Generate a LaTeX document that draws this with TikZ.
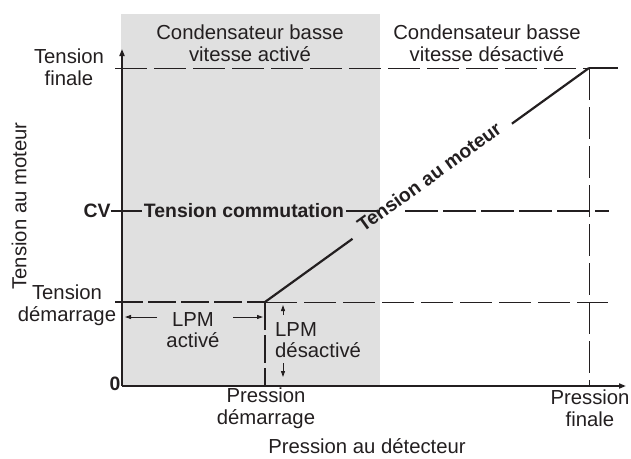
\documentclass[tikz,border=0pt]{standalone}
\usepackage{fontspec}
\setmainfont{Liberation Sans}
\usetikzlibrary{arrows.meta,calc}
\definecolor{greyfill}{RGB}{224,224,224}
\definecolor{ink}{RGB}{35,31,32}
\tikzset{
 lbl/.style={font=\fontsize{20.3}{21.5}\selectfont, text=ink, inner sep=0pt, align=center},
 blbl/.style={lbl, font=\fontsize{19.4}{21.5}\selectfont\bfseries},
 axisline/.style={draw=ink, line width=2pt, -{Triangle[length=7pt,width=5pt]}},
 thindash/.style={draw=ink, line width=1pt, dash pattern=on 32pt off 7pt},
 thickdash/.style={draw=ink, line width=2.2pt, dash pattern=on 33pt off 5pt},
 curveline/.style={draw=ink, line width=2.2pt},
 smallarrow/.style={draw=ink, line width=1pt, -{Triangle[length=6pt,width=4pt]}},
}
\begin{document}
\begin{tikzpicture}[x=1pt,y=-1pt]
\useasboundingbox (0,0) rectangle (631,458);
\fill[greyfill] (121,14) rectangle (380,386);

% key points
\coordinate (O) at (122,386);
\coordinate (Ytop) at (122,49);
\coordinate (Xend) at (626,386);
\coordinate (TFl) at (115,68);
\coordinate (TFr) at (589,68);
\coordinate (TFe) at (618,68);
\coordinate (PF) at (589,386);
\coordinate (TDl) at (115,302);
\coordinate (TD) at (265,302);
\coordinate (TDr) at (608,302);
\coordinate (PD) at (265,386);
\coordinate (CVr) at (380,211);
\coordinate (CVd) at (405,211);
\coordinate (CVe) at (609,211);

% labels
\node[lbl] (cba) at (250,43) {Condensateur basse\\vitesse activé};
\node[lbl] (cbd) at (487,43) {Condensateur basse\\vitesse désactivé};
\node[lbl] (tf) at (69,67) {Tension\\finale};
\node[blbl] (cv) at (97,211) {CV};
\node[blbl, inner xsep=2pt] (tc) at (244,211) {Tension commutation};
\node[lbl] (td) at (67,305) {Tension\\démarrage};
\node[blbl] (zero) at (115,384) {0};
\node[lbl] (pd) at (266,408) {Pression\\démarrage};
\node[lbl] (pf) at (590,408) {Pression\\finale};
\node[lbl] (px) at (367,446) {Pression au détecteur};
\node[lbl, rotate=90] (ty) at (19,206) {Tension au moteur};
\node[lbl] (lpma) at (193,330) {LPM\\activé};
\node[lbl, align=left, anchor=west] (lpmd) at (275,340) {LPM\\désactivé};
\node[blbl, rotate=35.8] (tm) at (429,177) {Tension au moteur};

% dashed guide lines
\draw[thindash] (TFl) -- (TFr);
\draw[curveline] (TFr) -- (TFe);
\draw[thindash] (TFr) -- (PF);
\draw[thickdash, dash pattern=on 28pt off 5pt] (TDl) -- (TD);
\draw[thindash] (TD) -- (TDr);
\draw[thickdash, dash pattern=on 28pt off 5pt] (TD) -- (PD);
\draw[thickdash] (CVd) -- (CVe);
\draw[curveline] (cv.east) -- (tc.west);
\draw[curveline] (tc.east) -- (CVr);

% motor voltage line
\draw[curveline] (TD) -- ($(TD)!0.27!(TFr)$);
\draw[curveline] ($(TD)!0.762!(TFr)$) -- (TFr);

% axes
\draw[axisline] (O) -- (Ytop);
\draw[axisline] (O) -- (Xend);

% LPM arrows
\coordinate (a1s) at (157,317);
\coordinate (a1e) at (125,317);
\coordinate (a2s) at (233,317);
\coordinate (a2e) at (263,317);
\coordinate (a3s) at (283,315);
\coordinate (a3e) at (283,305);
\coordinate (a4s) at (283,363);
\coordinate (a4e) at (283,377);
\draw[smallarrow] (a1s) -- (a1e);
\draw[smallarrow] (a2s) -- (a2e);
\draw[smallarrow] (a3s) -- (a3e);
\draw[smallarrow] (a4s) -- (a4e);
\end{tikzpicture}
\end{document}
